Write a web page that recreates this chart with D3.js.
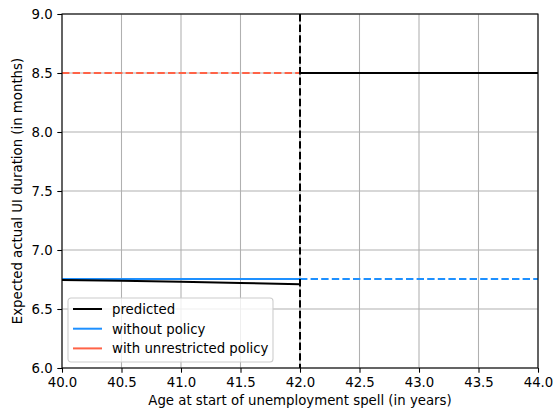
<!DOCTYPE html>
<html><head><meta charset="utf-8">
<script src="https://cdn.jsdelivr.net/npm/d3@7"></script>
<style>body{margin:0;background:#fff}svg{font-family:"DejaVu Sans",sans-serif}</style>
</head><body><svg id="c" width="554" height="415"></svg>
<script>
const xTicks=[40.0,40.5,41.0,41.5,42.0,42.5,43.0,43.5,44.0];
const yTicks=[6.0,6.5,7.0,7.5,8.0,8.5,9.0];
const predictedBelowX=[40.0,40.5,41.0,41.5,42.0];
const predictedBelowY=[6.745,6.74,6.73,6.72,6.71];
const predictedAboveX=[42.0,44.0];
const predictedAboveY=[8.5,8.5];
const withoutSolidX=[40.0,42.0], withoutSolidY=[6.755,6.755];
const withoutDashX=[42.0,44.0], withoutDashY=[6.755,6.755];
const unrestrictedX=[40.0,42.0], unrestrictedY=[8.5,8.5];
const cutoff=42.0;
const legendLabels=["predicted","without policy","with unrestricted policy"];
const colors={pred:"#000000",without:"#1e90ff",unres:"#ff6347"};

const FS=13.3;
const svg=d3.select("#c");
const L=62,R=538,T=14,B=368;
const x=d3.scaleLinear().domain([40,44]).range([L,R]);
const y=d3.scaleLinear().domain([6,9]).range([B,T]);
const g=svg.append("g");
g.selectAll(".gx").data(xTicks).enter().append("line").attr("x1",d=>x(d)).attr("x2",d=>x(d)).attr("y1",T).attr("y2",B).attr("stroke","#b0b0b0").attr("stroke-width",1.07);
g.selectAll(".gy").data(yTicks).enter().append("line").attr("y1",d=>y(d)).attr("y2",d=>y(d)).attr("x1",L).attr("x2",R).attr("stroke","#b0b0b0").attr("stroke-width",1.07);
const line=d3.line().x(d=>x(d[0])).y(d=>y(d[1]));
const zip=(a,b)=>a.map((v,i)=>[v,b[i]]);
const dash="7.4,3.2";
g.append("path").attr("d",line(zip(unrestrictedX,unrestrictedY))).attr("fill","none").attr("stroke",colors.unres).attr("stroke-width",2).attr("stroke-dasharray",dash);
g.append("path").attr("d",line(zip(withoutDashX,withoutDashY))).attr("fill","none").attr("stroke",colors.without).attr("stroke-width",2).attr("stroke-dasharray",dash);
g.append("path").attr("d",line(zip(withoutSolidX,withoutSolidY))).attr("fill","none").attr("stroke",colors.without).attr("stroke-width",2);
g.append("path").attr("d",line(zip(predictedBelowX,predictedBelowY))).attr("fill","none").attr("stroke",colors.pred).attr("stroke-width",2);
g.append("path").attr("d",line(zip(predictedAboveX,predictedAboveY))).attr("fill","none").attr("stroke",colors.pred).attr("stroke-width",2);
g.append("line").attr("x1",x(cutoff)).attr("x2",x(cutoff)).attr("y1",T).attr("y2",B).attr("stroke","#000").attr("stroke-width",2).attr("stroke-dasharray",dash);
const xa=svg.append("g").attr("transform",`translate(0,${B})`).call(d3.axisBottom(x).tickValues(xTicks).tickFormat(d3.format(".1f")).tickSize(4.7).tickPadding(4.7));
const ya=svg.append("g").attr("transform",`translate(${L},0)`).call(d3.axisLeft(y).tickValues(yTicks).tickFormat(d3.format(".1f")).tickSize(4.7).tickPadding(4.7));
[xa,ya].forEach(a=>{a.selectAll("text").attr("font-size",FS).attr("font-family","DejaVu Sans").attr("fill","#000");a.selectAll("line").attr("stroke","#000").attr("stroke-width",1.07);a.select(".domain").remove();});
svg.append("rect").attr("x",L).attr("y",T).attr("width",R-L).attr("height",B-T).attr("fill","none").attr("stroke","#000").attr("stroke-width",1.07);
svg.append("text").attr("x",(L+R)/2).attr("y",405).attr("text-anchor","middle").attr("font-size",FS).text("Age at start of unemployment spell (in years)");
svg.append("text").attr("transform",`translate(22,${(T+B)/2}) rotate(-90)`).attr("text-anchor","middle").attr("font-size",FS).text("Expected actual UI duration (in months)");
const lg=svg.append("g").attr("transform","translate(68,298)");
lg.append("rect").attr("width",205).attr("height",64).attr("rx",3).attr("fill","#fff").attr("fill-opacity",0.8).attr("stroke","#ccc").attr("stroke-width",1.07);
const lc=[colors.pred,colors.without,colors.unres];
legendLabels.forEach((t,i)=>{
  const yy=11+i*19.7;
  lg.append("line").attr("x1",5).attr("x2",34).attr("y1",yy).attr("y2",yy).attr("stroke",lc[i]).attr("stroke-width",2);
  lg.append("text").attr("x",44).attr("y",yy+4.8).attr("font-size",FS).text(t);
});
</script></body></html>
